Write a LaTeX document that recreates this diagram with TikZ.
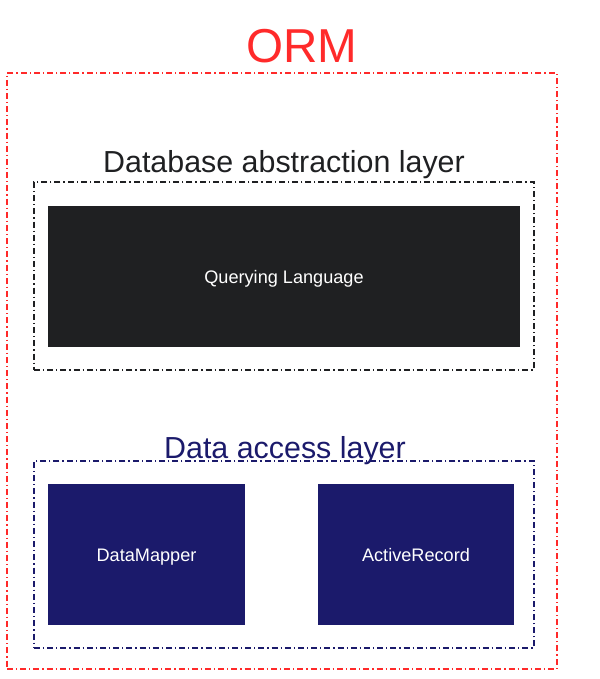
\documentclass[tikz,border=0pt]{standalone}
\usepackage{fontspec}
\setmainfont{Liberation Sans}
\usepackage{xcolor}
\usepackage{tikz}
\usetikzlibrary{positioning}
\definecolor{ormred}{HTML}{FF2A2A}
\definecolor{layerdark}{HTML}{1F2022}
\definecolor{layernavy}{HTML}{1B1A6B}

\begin{document}
\begin{tikzpicture}[x=0.75pt,y=-0.75pt,
  layerframe/.style={draw=#1, line width=0.9pt, dash pattern=on 4.5pt off 2.2pt on 1pt off 2.2pt, minimum width=375pt, minimum height=141pt},
  block/.style={fill=#1, text=white, font=\fontsize{13.6}{16}\selectfont, text height=9.8pt, text depth=0pt, minimum height=105.75pt},
  title/.style={anchor=base, font=\fontsize{22.8}{26}\selectfont}]
\useasboundingbox (0,0) rectangle (600,679);
\node[draw=ormred, line width=0.9pt, dash pattern=on 4.5pt off 2.2pt on 1pt off 2.2pt, minimum width=412.5pt, minimum height=447pt] (orm) at (282,371) {};
\node[anchor=base, text=ormred, font=\fontsize{35.7}{40}\selectfont] (ormtitle) at (302,62) {ORM};
% database abstraction layer
\node[layerframe=layerdark] (dbal) at (284,276) {};
\node[title, text=layerdark] (dbaltitle) at (284,172) {Database abstraction layer};
\node[block=layerdark, minimum width=354pt] (query) at (284,276.5) {Querying Language};
% data access layer
\node[layerframe=layernavy, minimum height=140.25pt] (dal) at (284,554.5) {};
\node[title, text=layernavy] (daltitle) at (285,458) {Data access layer};
\node[block=layernavy, minimum width=147.75pt] (mapper) at (146.5,554.5) {DataMapper};
\node[block=layernavy, minimum width=147pt] (record) at (416,554.5) {ActiveRecord};
\end{tikzpicture}
\end{document}
